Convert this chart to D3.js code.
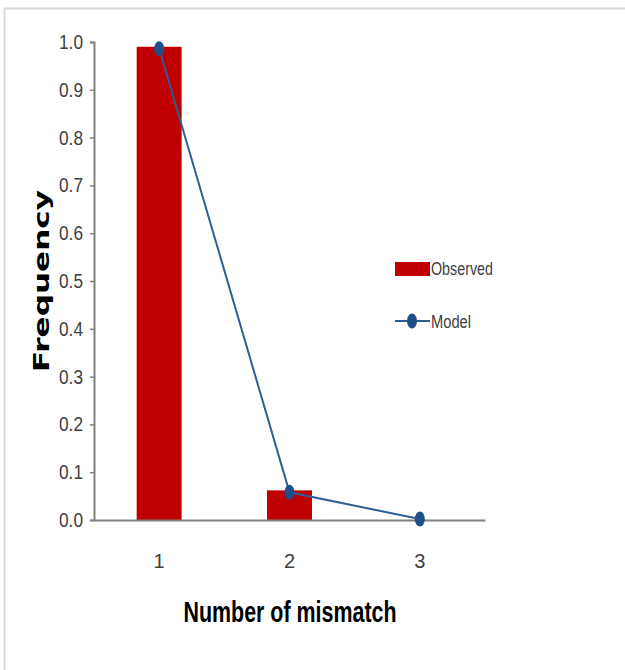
<!DOCTYPE html>
<html><head><meta charset="utf-8">
<script src="https://cdn.jsdelivr.net/npm/d3@7"></script>
<style>body{margin:0;background:#fff}svg{display:block}</style>
</head><body>
<script>
const categories = ["1","2","3"];
const observed = [0.99, 0.062, 0];
const model = [0.986, 0.058, 0.002];
const yTicks = [0,0.1,0.2,0.3,0.4,0.5,0.6,0.7,0.8,0.9,1.0];

const W=625,H=670;
const svg=d3.select("body").append("svg").attr("width",W).attr("height",H);
// frame
svg.append("line").attr("x1",4).attr("x2",W).attr("y1",8.5).attr("y2",8.5).attr("stroke","#d9d9d9").attr("stroke-width",2);
svg.append("line").attr("x1",4.5).attr("x2",4.5).attr("y1",8).attr("y2",H).attr("stroke","#d9d9d9").attr("stroke-width",2);

const x=d3.scaleBand().domain(categories).range([94,485]).paddingInner(0).paddingOuter(0);
const y=d3.scaleLinear().domain([0,1]).range([520,42]);
const bw=45;
const cx=d=>x(d)+x.bandwidth()/2;
const narrow="Liberation Sans Narrow, Liberation Sans, sans-serif";

// bars
svg.selectAll("rect.bar").data(categories).join("rect")
 .attr("x",d=>cx(d)-bw/2).attr("width",bw)
 .attr("y",(d,i)=>y(observed[i])).attr("height",(d,i)=>y(0)-y(observed[i]))
 .attr("fill","#c00000");

// y axis
const yAxis=svg.append("g").attr("transform","translate(94,0)")
 .call(d3.axisLeft(y).tickValues(yTicks).tickSize(4).tickFormat(d3.format(".1f")));
yAxis.select(".domain").attr("stroke","#808080").attr("stroke-width",2);
yAxis.selectAll(".tick line").attr("stroke","#808080").attr("stroke-width",1.5);
yAxis.selectAll(".tick text").attr("font-family",narrow)
 .attr("font-size",20).attr("fill","#404040").attr("x",-11)
 .attr("textLength",24).attr("lengthAdjust","spacingAndGlyphs");

// x axis
const xAxis=svg.append("g").attr("transform","translate(0,520)")
 .call(d3.axisBottom(x).tickSize(0).tickPadding(0));
xAxis.select(".domain").attr("stroke","#808080").attr("stroke-width",2);
xAxis.selectAll(".tick text").attr("font-family",narrow)
 .attr("font-size",20).attr("fill","#404040").attr("dy",0).attr("y",48);

// model line
const line=d3.line().x((d,i)=>cx(categories[i])).y(d=>y(d));
svg.append("path").datum(model).attr("d",line).attr("fill","none").attr("stroke","#2f5d95").attr("stroke-width",2);
svg.selectAll("ellipse.pt").data(model).join("ellipse")
 .attr("cx",(d,i)=>cx(categories[i])).attr("cy",d=>y(d)).attr("rx",5).attr("ry",7.5).attr("fill","#1f4e8a");

// axis titles
svg.append("text").attr("transform","translate(49,281) rotate(-90)").attr("text-anchor","middle")
 .attr("font-family","DejaVu Sans, Verdana, sans-serif").attr("font-weight","bold").attr("font-size",21)
 .attr("textLength",182).attr("lengthAdjust","spacingAndGlyphs").text("Frequency");
svg.append("text").attr("x",290).attr("y",622).attr("text-anchor","middle")
 .attr("font-family",narrow).attr("font-weight","bold").attr("font-size",30)
 .attr("textLength",213).attr("lengthAdjust","spacingAndGlyphs").text("Number of mismatch");

// legend
const lg=svg.append("g");
lg.append("rect").attr("x",395).attr("y",262).attr("width",35).attr("height",14).attr("fill","#c00000");
lg.append("text").attr("x",431).attr("y",275).attr("font-family",narrow)
 .attr("font-size",18).attr("fill","#404040").attr("textLength",62).attr("lengthAdjust","spacingAndGlyphs").text("Observed");
lg.append("line").attr("x1",395).attr("x2",430).attr("y1",321).attr("y2",321).attr("stroke","#2f5d95").attr("stroke-width",2);
lg.append("ellipse").attr("cx",412).attr("cy",321).attr("rx",5).attr("ry",7.5).attr("fill","#1f4e8a");
lg.append("text").attr("x",431).attr("y",328).attr("font-family",narrow)
 .attr("font-size",18).attr("fill","#404040").attr("textLength",40).attr("lengthAdjust","spacingAndGlyphs").text("Model");
</script>
</body></html>
